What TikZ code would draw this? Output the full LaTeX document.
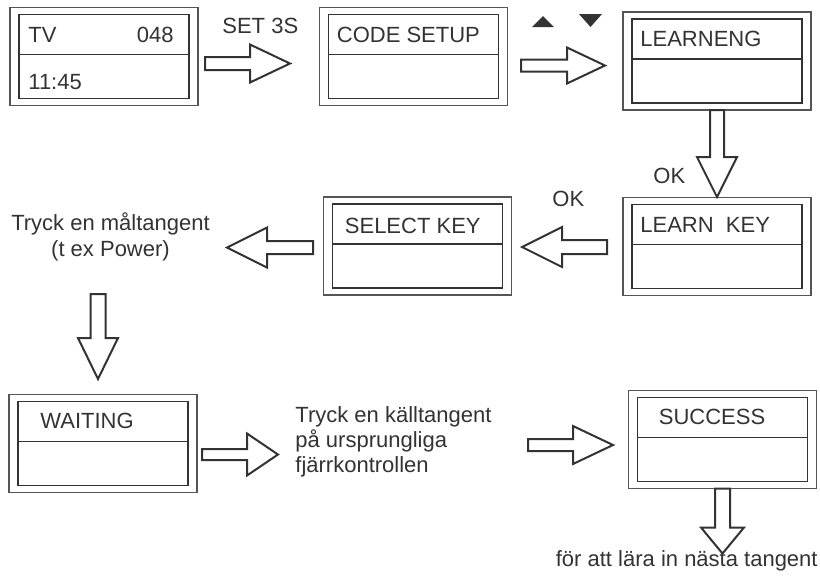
\documentclass[tikz,border=0pt]{standalone}
\usepackage{fontspec}
\setmainfont{Liberation Sans}
\usetikzlibrary{calc}
\definecolor{ink}{HTML}{333333}
\definecolor{framec}{HTML}{555555}
\tikzset{
  outerbox/.style={draw=framec, line width=0.7pt, fill=white, minimum width=94pt, minimum height=49pt, inner sep=0pt, outer sep=0pt},
  innerbox/.style={draw=ink, line width=0.9pt, minimum width=85pt, minimum height=42pt, inner sep=0pt, outer sep=0pt},
  divider/.style={draw=ink, line width=0.6pt},
  lbl/.style={text=ink, inner sep=0pt, font=\fontsize{11pt}{13pt}\selectfont},
  blkarrow/.style={draw=ink, line width=1pt, fill=white, line join=miter},
}
\newcommand\lcdbox[3]{%
  \node[outerbox] (#1) at (#2,#3) {};
  \node[innerbox] (#1i) at (#2,#3) {};
  \draw[divider] ($(#1i.north west)+(0,40)$) -- ($(#1i.north east)+(0,40)$);
}
% #1 start coordinate name, #2 angle, #3 length, #4 head length, #5 shaft half width, #6 head half width
\newcommand\blockarr[6]{%
  \begin{scope}[shift={(#1)}, rotate=#2]
    \draw[blkarrow] (0,-#5) -- (#3-#4,-#5) -- (#3-#4,-#6) -- (#3,0) -- (#3-#4,#6) -- (#3-#4,#5) -- (0,#5) -- cycle;
  \end{scope}
}
\begin{document}
\begin{tikzpicture}[x=0.5pt, y=-0.5pt]
\useasboundingbox[fill=white] (0,0) rectangle (820,585);

% boxes
\lcdbox{tv}{104}{56.5}
\lcdbox{code}{413.5}{56.5}
\lcdbox{learneng}{717}{61}
\lcdbox{learnkey}{717}{246.5}
\lcdbox{select}{417.5}{246}
\lcdbox{waiting}{103}{443.5}
\lcdbox{success}{722.5}{439.5}

% box texts
\node[lbl, anchor=base west] (tvt) at ($(tvi.north west)+(9,28)$) {TV};
\node[lbl, anchor=base east] (tvn) at ($(tvi.north east)+(-15,28)$) {048};
\node[lbl, anchor=base west] (tvc) at ($(tvi.north west)+(9,75)$) {11:45};
\node[lbl, anchor=base west] (codet) at ($(codei.north west)+(8,28)$) {CODE SETUP};
\node[lbl, anchor=base west] (learnengt) at ($(learnengi.north west)+(8,27)$) {LEARNENG};
\node[lbl, anchor=base west] (learnkeyt) at ($(learnkeyi.north west)+(8,28)$) {LEARN\ \ KEY};
\node[lbl, anchor=base west] (selectt) at ($(selecti.north west)+(12,29)$) {SELECT KEY};
\node[lbl, anchor=base west] (waitingt) at ($(waitingi.north west)+(22,27)$) {WAITING};
\node[lbl, anchor=base west] (successt) at ($(successi.north west)+(21,27)$) {SUCCESS};

% free labels
\node[lbl, anchor=base west] (set3s) at (222,33) {SET 3S};
\node[lbl, anchor=base west] (ok1) at (653,183) {OK};
\node[lbl, anchor=base west] (ok2) at (552,206) {OK};
\node[lbl, anchor=base] (malt1) at (110.5,230) {Tryck en måltangent};
\node[lbl, anchor=base] (malt2) at (110.5,256) {(t ex Power)};
\node[lbl, anchor=base west] (kall1) at (295,422) {Tryck en källtangent};
\node[lbl, anchor=base west] (kall2) at (295,447) {på ursprungliga};
\node[lbl, anchor=base west] (kall3) at (295,472) {fjärrkontrollen};
\node[lbl, anchor=base east] (nasta) at (818,566) {för att lära in nästa tangent};

% up / down keys
\fill[ink] (532,27) -- (554,27) -- (543,16) -- cycle;
\fill[ink] (579,14) -- (602,14) -- (590.5,27) -- cycle;

% arrow start points
\coordinate (a1) at (205,63.5);
\coordinate (a2) at (521,65.5);
\coordinate (a3) at (learneng.south);
\coordinate (a4) at (607,247);
\coordinate (a5) at (313,247.5);
\coordinate (a6) at (98,294);
\coordinate (a7) at (202,454.5);
\coordinate (a8) at (528,445);
\coordinate (a9) at (success.south);

\blockarr{a1}{0}{85}{40}{6.5}{19}
\blockarr{a2}{0}{84}{38}{6}{18}
\blockarr{a3}{-90}{87}{40}{7}{20}
\blockarr{a4}{180}{85}{40}{7}{20}
\blockarr{a5}{180}{86}{40}{6.5}{20}
\blockarr{a6}{-90}{85}{41}{7.5}{20}
\blockarr{a7}{0}{76}{31}{5.5}{21}
\blockarr{a8}{0}{85}{40}{6}{19}
\blockarr{a9}{-90}{65}{26}{7.5}{21.5}
\end{tikzpicture}
\end{document}
